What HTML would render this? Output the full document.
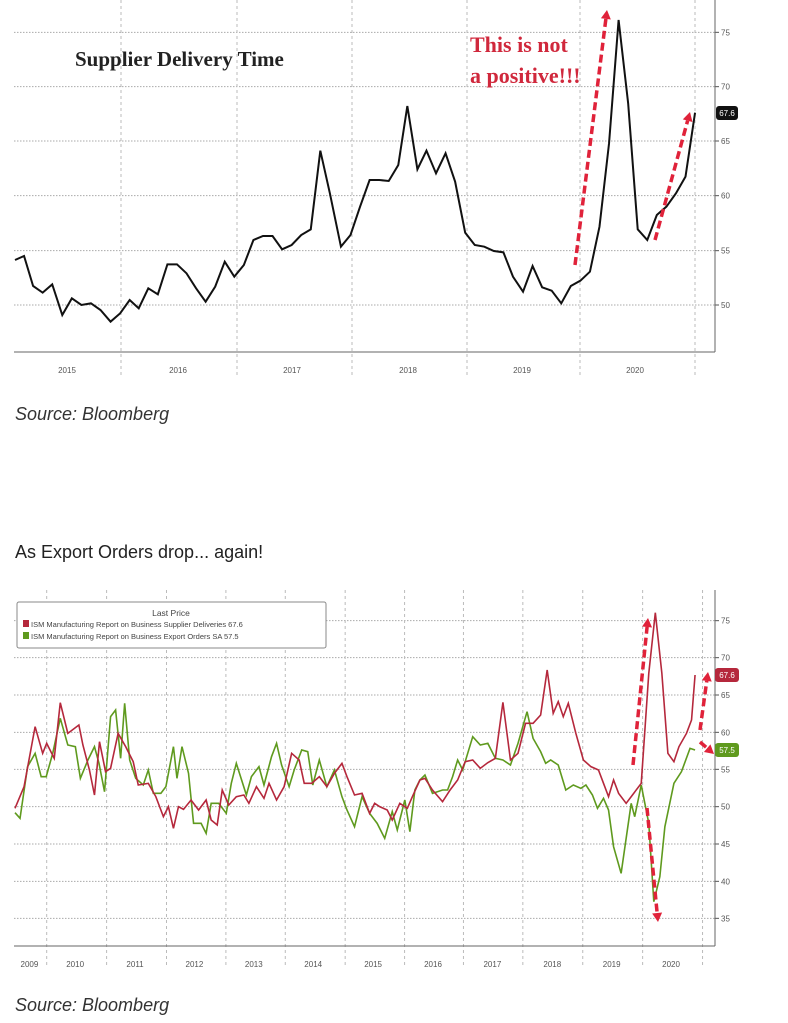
<!DOCTYPE html>
<html><head><meta charset="utf-8"><style>
html,body{margin:0;padding:0;background:#fff;}
body{width:788px;height:1023px;position:relative;overflow:hidden;font-family:"Liberation Sans",sans-serif;}
.t{position:absolute;color:#333;font-size:18px;}
</style></head><body>
<svg id="s" width="788" height="1023" style="position:absolute;left:0;top:0" xmlns="http://www.w3.org/2000/svg"></svg>
<div class="t" style="left:15px;top:404px;font-style:italic">Source: Bloomberg</div>
<div class="t" style="left:15px;top:542px;color:#222">As Export Orders drop... again!</div>
<div class="t" style="left:15px;top:995px;font-style:italic">Source: Bloomberg</div>
<script>
const S=document.getElementById('s');let h='';
const X=x=>x/1.97;
const XS=x=>15+(x-30)*0.503;
// top chart
const tv=[[75,97],[70,260],[65,423],[60,587],[55,752],[50,915]];
tv.forEach(([v,y])=>{y=y/3;h+=`<line x1="14" y1="${y}" x2="715" y2="${y}" stroke="#aaa" stroke-dasharray="1.5,1.5"/><line x1="715" y1="${y}" x2="719" y2="${y}" stroke="#555"/><text x="721" y="${y+3}" font-size="8" fill="#555" font-family="Liberation Sans">${v}</text>`;});
[121,237,352,467,580,695].forEach(x=>{h+=`<line x1="${x}" y1="0" x2="${x}" y2="378" stroke="#bbb" stroke-dasharray="3,3"/>`;});
h+=`<line x1="14" y1="352" x2="715" y2="352" stroke="#666"/><line x1="715" y1="0" x2="715" y2="352" stroke="#666"/>`;
[[67,2015],[178,2016],[292,2017],[408,2018],[522,2019],[635,2020]].forEach(([x,t])=>{h+=`<text x="${x}" y="373" font-size="8" fill="#555" text-anchor="middle" font-family="Liberation Sans">${t}</text>`;});
const tp=[[30,780],[48,768],[66,858],[85,878],[104,853],[124,945],[143,895],[162,915],[181,910],[200,930],[220,965],[239,940],[258,900],[276,925],[295,865],[314,883],[333,793],[352,793],[371,820],[390,865],[409,905],[428,860],[447,785],[466,830],[485,795],[504,720],[523,708],[542,708],[561,748],[580,735],[599,705],[618,688],[637,452],[656,580],[678,740],[697,705],[716,620],[735,540],[754,540],[773,543],[792,495],[810,318],[830,508],[848,452],[867,520],[886,460],[905,545],[925,698],[944,735],[963,740],[982,753],[1001,757],[1020,830],[1040,875],[1059,798],[1078,862],[1097,872],[1116,910],[1135,858],[1154,842],[1173,815],[1192,680],[1211,430],[1230,60],[1249,310],[1268,688],[1287,720],[1306,645],[1325,620],[1344,580],[1363,530],[1382,338]];
h+=`<polyline fill="none" stroke="#111" stroke-width="2" points="${tp.map(p=>XS(p[0])+','+p[1]/3).join(' ')}"/>`;
h+=`<rect x="716" y="106" width="22" height="14" rx="3" fill="#111"/><text x="727" y="116" font-size="8" fill="#fff" text-anchor="middle">67.6</text>`;
h+=`<text x="75" y="66" font-size="21" font-weight="bold" font-family="Liberation Serif" fill="#222">Supplier Delivery Time</text>`;
h+=`<text x="470" y="52" font-size="22" font-weight="bold" font-family="Liberation Serif" fill="#d0283c">This is not</text><text x="470" y="83" font-size="22" font-weight="bold" font-family="Liberation Serif" fill="#d0283c">a positive!!!</text>`;
function arr(x1,y1,x2,y2){const a=Math.atan2(y2-y1,x2-x1),L=9;const bx=x2-L*Math.cos(a),by=y2-L*Math.sin(a);
h+=`<line x1="${x1}" y1="${y1}" x2="${bx}" y2="${by}" stroke="#e0223a" stroke-width="3.5" stroke-dasharray="8,4"/>`;
const px=Math.sin(a)*5,py=-Math.cos(a)*5;h+=`<polygon points="${x2},${y2} ${bx+px},${by+py} ${bx-px},${by-py}" fill="#e0223a"/>`;}
arr(575,265,607,10);arr(655,240,690,112);
// bottom chart
const bv=[[75,92],[70,203],[65,315],[60,427],[55,538],[50,650],[45,762],[40,874],[35,985]];
bv.forEach(([v,y])=>{y=590+y/3;h+=`<line x1="14" y1="${y}" x2="715" y2="${y}" stroke="#aaa" stroke-dasharray="1.5,1.5"/><line x1="715" y1="${y}" x2="719" y2="${y}" stroke="#555"/><text x="721" y="${y+3}" font-size="8" fill="#555">${v}</text>`;});
[92,210,328,445,562,680,797,913,1030,1148,1266,1384].forEach(x=>{h+=`<line x1="${X(x)}" y1="590" x2="${X(x)}" y2="968" stroke="#bbb" stroke-dasharray="3,3"/>`;});
h+=`<line x1="14" y1="946" x2="715" y2="946" stroke="#666"/><line x1="715" y1="590" x2="715" y2="946" stroke="#666"/>`;
[[58,2009],[148,2010],[266,2011],[383,2012],[500,2013],[617,2014],[735,2015],[853,2016],[970,2017],[1088,2018],[1205,2019],[1322,2020]].forEach(([x,t])=>{h+=`<text x="${X(x)}" y="967" font-size="8" fill="#555" text-anchor="middle">${t}</text>`;});
const R=[[30,655],[48,590],[70,410],[85,490],[93,460],[108,505],[120,338],[135,430],[157,405],[165,465],[178,540],[188,615],[198,455],[210,545],[220,535],[235,430],[250,470],[265,515],[275,585],[295,580],[310,620],[325,680],[335,650],[345,715],[355,650],[365,658],[380,630],[395,660],[410,630],[420,690],[432,705],[442,600],[455,645],[470,620],[485,615],[495,640],[510,590],[525,625],[535,580],[550,630],[565,590],[580,490],[595,510],[605,580],[620,580],[635,560],[650,590],[665,550],[680,520],[690,560],[705,615],[720,610],[735,670],[745,640],[755,650],[770,660],[780,690],[795,640],[810,655],[820,620],[835,570],[845,565],[860,600],[880,635],[895,600],[910,570],[925,515],[940,510],[955,535],[970,518],[985,505],[1000,337],[1015,510],[1030,490],[1045,400],[1060,400],[1075,375],[1088,240],[1100,370],[1110,335],[1120,380],[1130,340],[1145,430],[1160,510],[1175,530],[1190,540],[1200,580],[1210,620],[1220,570],[1230,610],[1245,640],[1260,610],[1275,580],[1290,250],[1303,68],[1316,250],[1328,490],[1340,515],[1350,470],[1365,430],[1375,390],[1382,255]];
const G=[[30,668],[40,685],[55,530],[70,490],[82,560],[92,560],[105,490],[120,385],[135,465],[150,470],[160,565],[175,510],[188,470],[197,520],[208,605],[220,380],[230,360],[240,505],[248,340],[258,510],[270,565],[285,585],[295,540],[305,610],[320,610],[330,590],[345,470],[352,565],[362,470],[375,550],[385,700],[400,700],[410,730],[420,640],[435,640],[450,670],[460,580],[470,520],[490,615],[500,560],[515,530],[525,585],[540,500],[550,460],[560,525],[575,590],[585,540],[600,480],[612,485],[622,585],[635,510],[650,590],[665,540],[680,620],[690,660],[705,710],[720,620],[735,670],[750,700],[765,745],[780,665],[790,720],[805,630],[815,725],[825,600],[835,570],[845,555],[860,610],[880,600],[890,600],[900,560],[910,510],[920,540],[940,440],[955,465],[970,460],[985,505],[1000,510],[1015,525],[1030,460],[1048,365],[1060,445],[1075,485],[1085,520],[1095,510],[1110,525],[1125,600],[1140,585],[1155,595],[1165,585],[1178,615],[1188,655],[1200,625],[1210,660],[1220,770],[1235,850],[1255,640],[1262,680],[1275,585],[1290,700],[1300,935],[1312,860],[1322,710],[1340,580],[1355,545],[1372,475],[1382,480]];
const pl=(a,c)=>`<polyline fill="none" stroke="${c}" stroke-width="1.6" points="${a.map(p=>XS(p[0])+','+(590+p[1]/3)).join(' ')}"/>`;
h+=pl(G,'#5f9a1e')+pl(R,'#b5283c');
h+=`<rect x="715" y="668" width="24" height="14" rx="3" fill="#b5283c"/><text x="727" y="678" font-size="8" fill="#fff" text-anchor="middle">67.6</text>`;
h+=`<rect x="715" y="743" width="24" height="14" rx="3" fill="#5f9a1e"/><text x="727" y="753" font-size="8" fill="#fff" text-anchor="middle">57.5</text>`;
h+=`<rect x="17" y="602" width="309" height="46" fill="#fff" stroke="#888" rx="2"/><text x="171" y="616" font-size="8.5" fill="#444" text-anchor="middle">Last Price</text>`;
h+=`<rect x="23" y="620" width="6" height="7" fill="#b5283c"/><text x="31" y="627" font-size="7.5" fill="#444">ISM Manufacturing Report on Business Supplier Deliveries 67.6</text>`;
h+=`<rect x="23" y="632" width="6" height="7" fill="#5f9a1e"/><text x="31" y="639" font-size="7.5" fill="#444">ISM Manufacturing Report on Business Export Orders SA    57.5</text>`;
arr(633,765,648,618);arr(647,808,658,922);arr(700,730,708,672);arr(700,742,714,754);
S.innerHTML=h;
</script>
</body></html>
